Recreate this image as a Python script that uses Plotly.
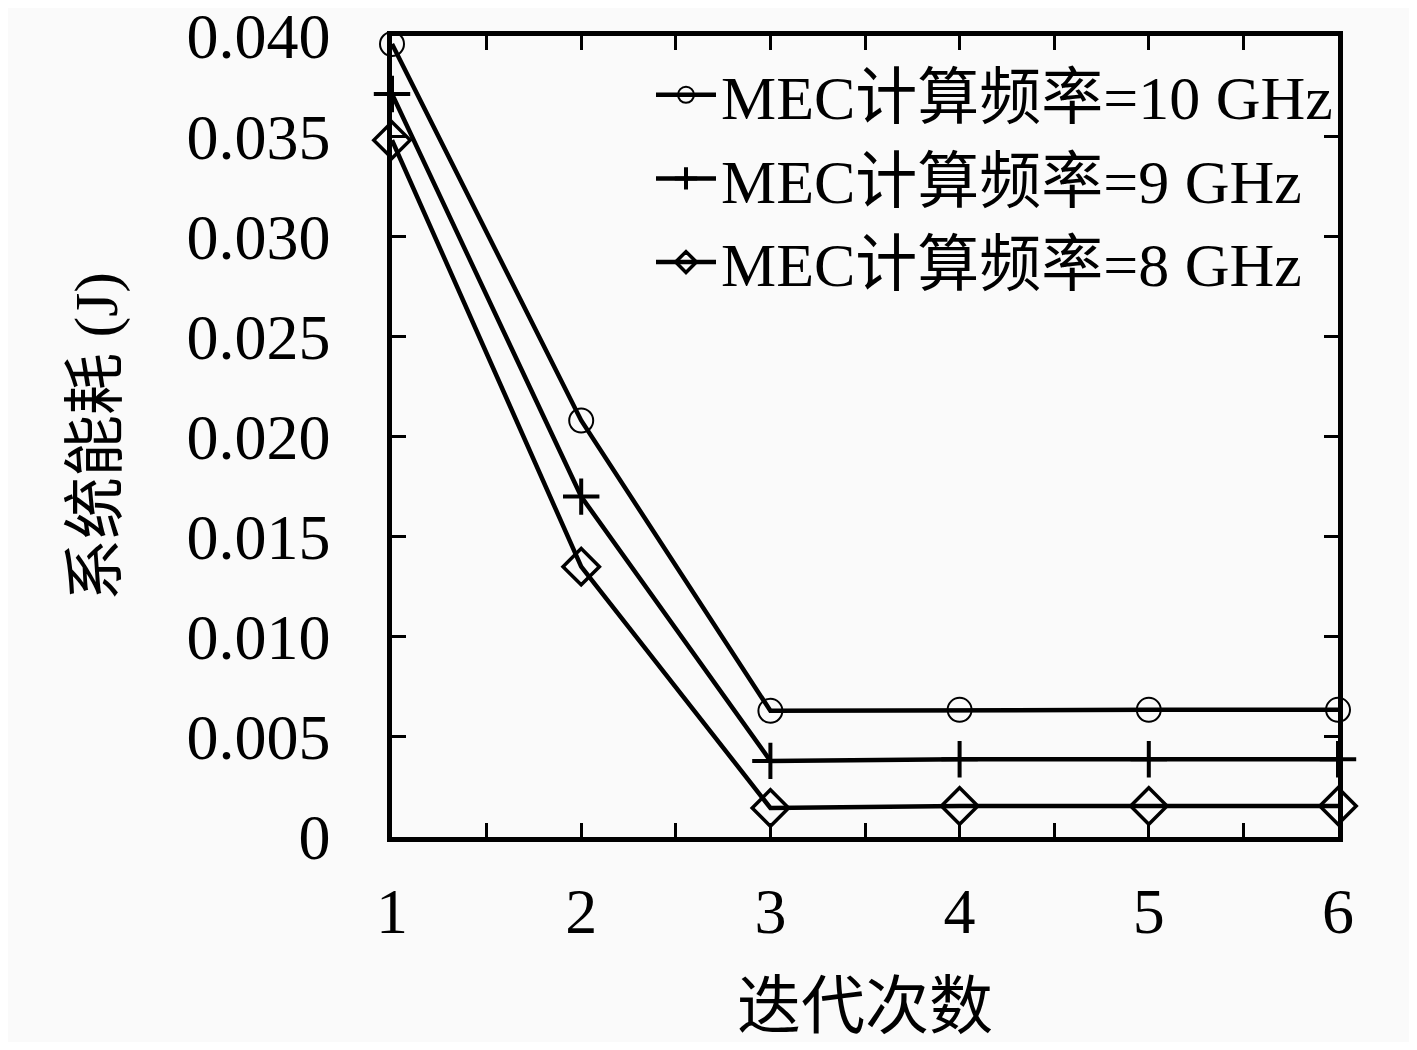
import plotly.graph_objects as go

iterations = [1, 2, 3, 4, 5, 6]
energy_10ghz = [0.0396, 0.0208, 0.0063, 0.00635, 0.00635, 0.00635]
energy_9ghz = [0.0371, 0.0170, 0.0038, 0.00388, 0.00388, 0.00388]
energy_8ghz = [0.0348, 0.0135, 0.00145, 0.00155, 0.00155, 0.00155]
names = ['MEC计算频率=10 GHz', 'MEC计算频率=9 GHz', 'MEC计算频率=8 GHz']

y_ticks = [0, 0.005, 0.010, 0.015, 0.020, 0.025, 0.030, 0.035, 0.040]
y_labels = ['0', '0.005', '0.010', '0.015', '0.020', '0.025', '0.030', '0.035', '0.040']

FONT = 'Liberation Serif, Noto Sans CJK SC, serif'

fig = go.Figure()
markers = [
    dict(symbol='circle-open', size=24, line=dict(width=2, color='black')),
    dict(symbol='cross-thin-open', size=26, line=dict(width=4, color='black')),
    dict(symbol='diamond-open', size=28, line=dict(width=3.5, color='black')),
]
for name, ys, mk in zip(names, [energy_10ghz, energy_9ghz, energy_8ghz], markers):
    fig.add_trace(go.Scatter(x=iterations, y=ys, name=name, mode='lines+markers',
                             line=dict(color='black', width=4.5), marker=mk,
                             cliponaxis=False))

fig.update_xaxes(range=[1, 6], tickvals=iterations, ticks='inside', ticklen=14,
                 tickwidth=3, tickcolor='black', mirror='ticks', showline=True,
                 linecolor='black', linewidth=4.5, showgrid=False, zeroline=False,
                 minor=dict(dtick=0.5, ticks='inside', ticklen=14, tickwidth=3,
                            tickcolor='black', showgrid=False),
                 tickfont=dict(size=64, family=FONT, color='black'),
                 ticklabelstandoff=14, ticklabeloverflow='allow', automargin=False,
                 title=dict(text='迭代次数', font=dict(size=64, family=FONT, color='black'),
                            standoff=60))
fig.update_yaxes(range=[0, 0.040], tickvals=y_ticks, ticktext=y_labels,
                 ticks='inside', ticklen=14, tickwidth=3, tickcolor='black',
                 mirror='ticks', showline=True, linecolor='black', linewidth=4.5,
                 showgrid=False, zeroline=False,
                 tickfont=dict(size=64, family=FONT, color='black'),
                 ticklabelstandoff=44, ticklabeloverflow='allow', automargin=False,
                 title=dict(text='系统能耗 (J)', font=dict(size=62, family=FONT, color='black'),
                            standoff=50))
fig.update_layout(
    width=1401, height=1034,
    margin=dict(l=384, r=71, t=28, b=205, autoexpand=False),
    paper_bgcolor='#fafafa', plot_bgcolor='#fafafa',
    font=dict(family=FONT, color='black'),
    legend=dict(x=1, xanchor='right', y=0.985, yanchor='top',
                bgcolor='rgba(0,0,0,0)', font=dict(size=62, family=FONT),
                itemwidth=60, tracegroupgap=0),
    showlegend=True,
)
fig.write_html("out.html")
